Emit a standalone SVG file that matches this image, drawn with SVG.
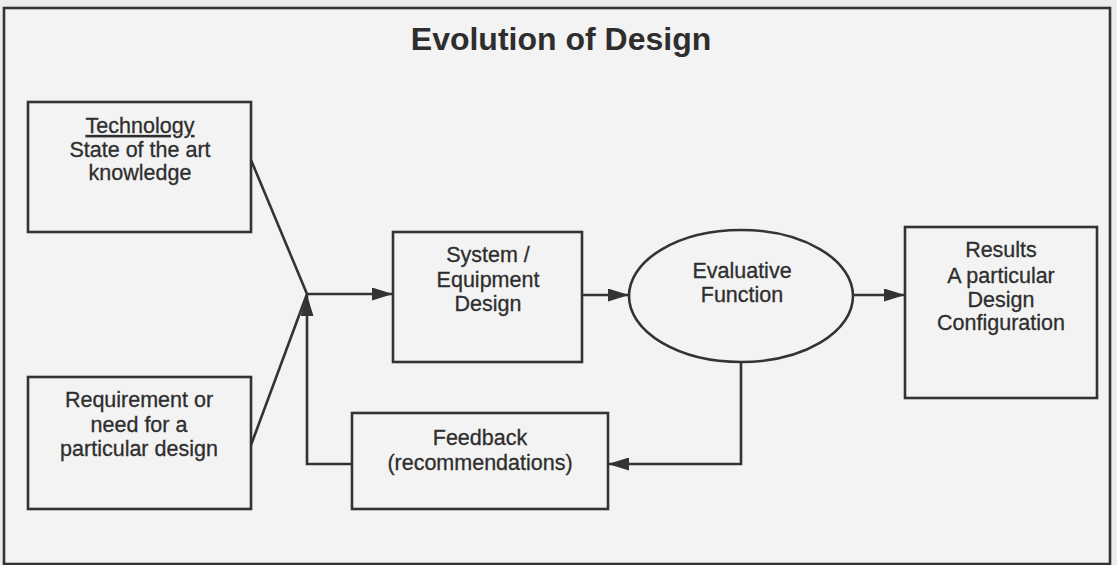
<svg xmlns="http://www.w3.org/2000/svg" width="1117" height="565" viewBox="0 0 1117 565">
  <style>
    .box { fill: none; stroke: #333; stroke-width: 2.6; }
    .lbl { font-family: "Liberation Sans", Arial, sans-serif; font-size: 21.5px; fill: #2e2e2e; stroke: #2e2e2e; stroke-width: 0.3; text-anchor: middle; }
    .title { font-family: "Liberation Sans", Arial, sans-serif; font-size: 32px; font-weight: bold; fill: #2e2e2e; text-anchor: middle; }
    .conn { fill: none; stroke: #333; stroke-width: 2.6; }
    .arr { marker-end: url(#ah); }
  </style>
  <defs>
    <marker id="ah" viewBox="0 0 21 13" refX="21" refY="6.5" markerWidth="21" markerHeight="13" markerUnits="userSpaceOnUse" orient="auto">
      <path d="M0,0 L21,6.5 L0,13 z" fill="#333"/>
    </marker>
  </defs>
  <rect x="0" y="0" width="1117" height="565" fill="#ececec"/>
  <rect x="4" y="8" width="1106" height="556" fill="#f3f3f3" stroke="#333" stroke-width="2.6"/>

  <text class="title" x="561" y="50">Evolution of Design</text>

  <g id="connectors">
    <line class="conn" x1="251" y1="160" x2="307" y2="294"/>
    <line class="conn" x1="251" y1="445" x2="307" y2="294"/>
    <line class="conn arr" x1="307" y1="294" x2="393" y2="294"/>
    <polyline class="conn arr" points="352,464 307,464 307,295"/>
    <line class="conn arr" x1="582" y1="295" x2="629" y2="295"/>
    <line class="conn arr" x1="853" y1="295" x2="905" y2="295"/>
    <polyline class="conn arr" points="741,362 741,464 608,464"/>
  </g>

  <g id="technology">
    <rect class="box" x="28" y="102" width="223" height="130"/>
    <text class="lbl" x="140" y="133" text-decoration="underline">Technology</text>
    <text class="lbl" x="140" y="157">State of the art</text>
    <text class="lbl" x="140" y="180">knowledge</text>
  </g>

  <g id="requirement">
    <rect class="box" x="28" y="377" width="223" height="132"/>
    <text class="lbl" x="139" y="407">Requirement or</text>
    <text class="lbl" x="139" y="432">need for a</text>
    <text class="lbl" x="139" y="456">particular design</text>
  </g>

  <g id="system">
    <rect class="box" x="393" y="232" width="189" height="130"/>
    <text class="lbl" x="488" y="262">System /</text>
    <text class="lbl" x="488" y="287">Equipment</text>
    <text class="lbl" x="488" y="311">Design</text>
  </g>

  <g id="evaluative">
    <ellipse class="box" cx="741" cy="296" rx="112" ry="66"/>
    <text class="lbl" x="742" y="278">Evaluative</text>
    <text class="lbl" x="742" y="302">Function</text>
  </g>

  <g id="results">
    <rect class="box" x="905" y="227" width="192" height="171"/>
    <text class="lbl" x="1001" y="257">Results</text>
    <text class="lbl" x="1001" y="283">A particular</text>
    <text class="lbl" x="1001" y="307">Design</text>
    <text class="lbl" x="1001" y="330">Configuration</text>
  </g>

  <g id="feedback">
    <rect class="box" x="352" y="413" width="256" height="96"/>
    <text class="lbl" x="480" y="445">Feedback</text>
    <text class="lbl" x="480" y="470">(recommendations)</text>
  </g>
</svg>
